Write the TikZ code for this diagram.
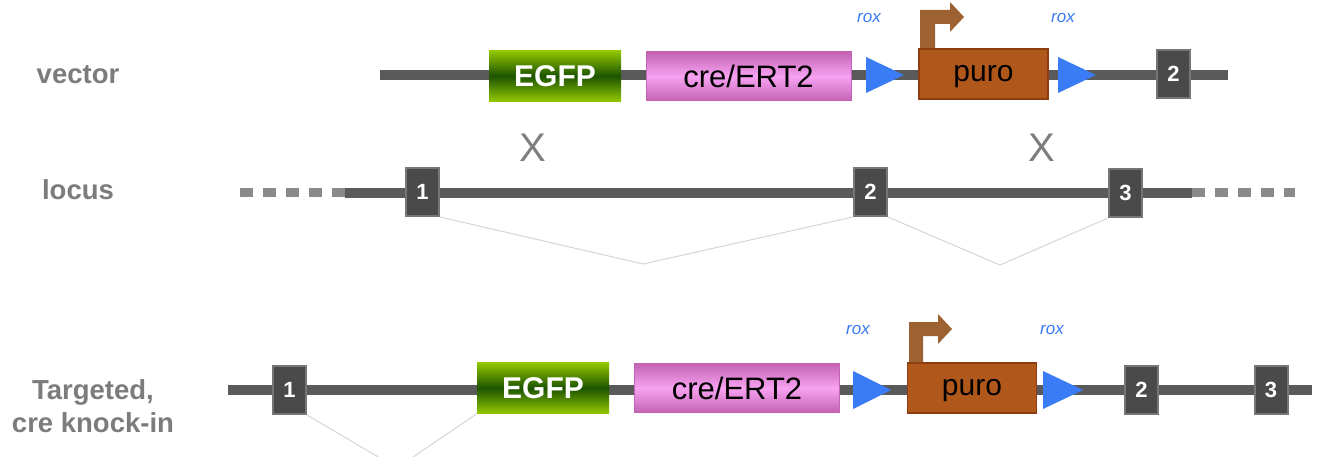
\documentclass[tikz,border=0pt]{standalone}
\usepackage{fontspec}
\setmainfont{Liberation Sans}
\definecolor{bb}{HTML}{5A5A5A}
\definecolor{dotc}{HTML}{8A8A8A}
\definecolor{lab}{HTML}{7C7C7C}
\definecolor{glight}{HTML}{94C800}
\definecolor{gdark}{HTML}{1C5400}
\definecolor{pinkedge}{HTML}{C462B4}
\definecolor{pinkmid}{HTML}{F7A2F2}
\definecolor{puroc}{HTML}{B0571C}
\definecolor{puroedge}{HTML}{8E3E0E}
\definecolor{promc}{HTML}{9C6232}
\definecolor{loxc}{HTML}{3A7CF6}
\definecolor{exonc}{HTML}{4A4A4A}
\definecolor{exonedge}{HTML}{767676}
\definecolor{splice}{HTML}{D6D6D6}
\definecolor{xc}{HTML}{7E7E7E}
\tikzset{
  backbone/.style={draw=bb, line width=10pt},
  dotline/.style={draw=dotc, line width=9pt, dash pattern=on 13pt off 10pt},
  splicel/.style={draw=splice, line width=1pt},
  egfpbox/.style={rectangle, inner sep=0pt, minimum width=132pt, minimum height=51pt,
    top color=glight, bottom color=glight, middle color=gdark, text=white,
    text height=21.5pt, text depth=0pt,
    font=\bfseries\fontsize{30}{30}\selectfont},
  crebox/.style={rectangle, inner sep=0pt, minimum width=205pt, minimum height=49pt,
    top color=pinkedge, bottom color=pinkedge, middle color=pinkmid, draw=pinkedge, line width=1pt,
    text=black, text height=22.2pt, text depth=0pt, font=\fontsize{31}{31}\selectfont},
  purobox/.style={rectangle, inner sep=0pt, minimum width=129pt, minimum height=50pt,
    fill=puroc, draw=puroedge, line width=1.5pt, text=black,
    text height=15.6pt, text depth=0pt, font=\fontsize{30}{30}\selectfont},
  exonbox/.style={rectangle, inner sep=0pt, minimum width=33pt, minimum height=48pt,
    fill=exonc, draw=exonedge, line width=2pt, text=white,
    text height=15.8pt, text depth=0pt, font=\bfseries\fontsize{22}{22}\selectfont},
  loxtri/.style={fill=loxc},
  promoter/.style={fill=promc},
  roxlabel/.style={text=loxc, font=\itshape\fontsize{17}{17}\selectfont, inner sep=0pt},
  rowlabel/.style={text=lab, font=\bfseries\fontsize{27.5}{33}\selectfont, align=center, inner sep=0pt},
  xmark/.style={text=xc, font=\fontsize{40}{40}\selectfont, inner sep=0pt}
}
\begin{document}
\begin{tikzpicture}[x=1pt,y=-1pt]
\clip (0,0) rectangle (1326,457);
\fill[white] (0,0) rectangle (1326,457);

% ---------- row labels
\node[rowlabel] (lvec) at (78,75) {vector};
\node[rowlabel] (lloc) at (78,190) {locus};
\node[rowlabel] (ltar) at (93,406) {Targeted,\\cre knock-in};

% ---------- vector
\coordinate (v0) at (380,75);
\coordinate (v1) at (1228,75);
\draw[backbone] (v0) -- (v1);
\node[egfpbox] (vegfp) at (555,76) {EGFP};
\node[crebox] (vcre) at (748.5,76.5) {cre/ERT2};
\fill[loxtri] (866,57) -- (866,93) -- (904,75) -- cycle;
\node[purobox] (vpuro) at (983.5,74) {puro};
\fill[promoter] (920,48) -- (920,10) -- (950,10) -- (950,2) -- (964,17) -- (950,32) -- (950,24) -- (935,24) -- (935,48) -- cycle;
\fill[loxtri] (1058,57) -- (1058,93) -- (1096,75) -- cycle;
\node[exonbox] (vex2) at (1173.5,74) {2};
\node[roxlabel] (vrox1) at (869,18) {rox};
\node[roxlabel] (vrox2) at (1063,18) {rox};

% ---------- crossover marks
\node[xmark] (x1) at (533,148) {X};
\node[xmark] (x2) at (1042,148) {X};

% ---------- locus
\coordinate (l0) at (240,193);
\coordinate (l1) at (345,193);
\coordinate (l2) at (1192,193);
\coordinate (l3) at (1295,193);
\draw[dotline] (l0) -- (l1);
\draw[dotline] (l2) -- (l3);
\draw[backbone] (l1) -- (l2);
\node[exonbox] (lex1) at (422.5,192) {1};
\node[exonbox] (lex2) at (870.5,192) {2};
\node[exonbox] (lex3) at (1125.5,193) {3};
\coordinate (sp1) at (643,264);
\coordinate (sp2) at (1000,265);
\draw[splicel] (lex1.south east) -- (sp1) -- (lex2.south west);
\draw[splicel] (lex2.south east) -- (sp2) -- (lex3.south west);

% ---------- targeted
\coordinate (t0) at (228,390);
\coordinate (t1) at (1312,390);
\draw[backbone] (t0) -- (t1);
\node[exonbox] (tex1) at (289.5,390) {1};
\node[egfpbox] (tegfp) at (543,388) {EGFP};
\node[crebox] (tcre) at (737,388) {cre/ERT2};
\fill[loxtri] (853,371) -- (853,409) -- (891,390) -- cycle;
\node[purobox] (tpuro) at (972,388) {puro};
\fill[promoter] (909,362) -- (909,322) -- (938,322) -- (938,314) -- (952,329) -- (938,344) -- (938,336) -- (923,336) -- (923,362) -- cycle;
\fill[loxtri] (1043,371) -- (1043,409) -- (1083,390) -- cycle;
\node[exonbox] (tex2) at (1141.5,390) {2};
\node[exonbox] (tex3) at (1271,390) {3};
\node[roxlabel] (trox1) at (858,330) {rox};
\node[roxlabel] (trox2) at (1052,330) {rox};
\coordinate (sp3) at (397,468);
\draw[splicel] (tex1.south east) -- (sp3) -- (tegfp.south west);
\end{tikzpicture}
\end{document}
